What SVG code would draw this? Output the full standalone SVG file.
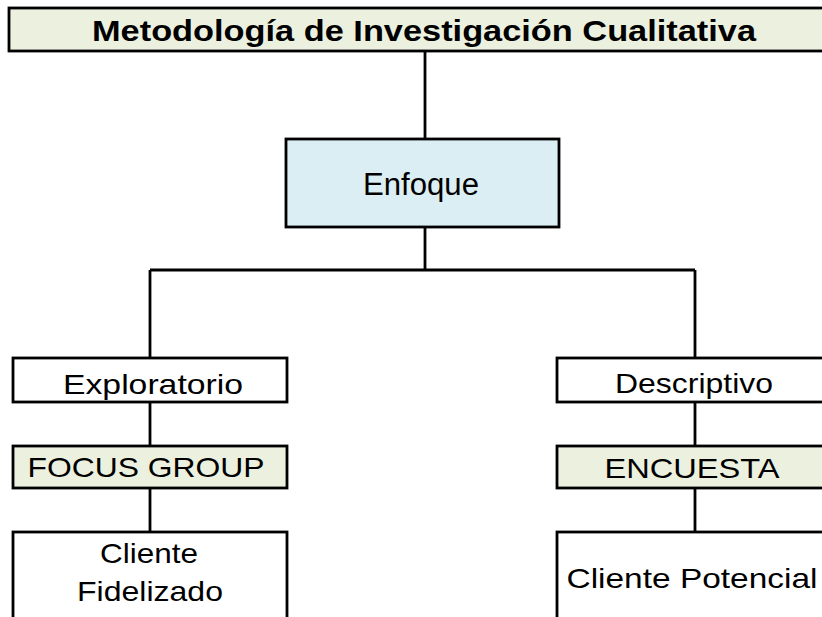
<svg xmlns="http://www.w3.org/2000/svg" width="822" height="617" viewBox="0 0 822 617">
<style>
.box{stroke:#000;stroke-width:2.8}
.white{fill:#fff}
.green{fill:#EBF1DE}
.blue{fill:#DAEEF3}
.t{font-family:"Liberation Sans",Arial,sans-serif;font-size:28px;fill:#000;text-anchor:middle}
.title{font-weight:bold;font-size:30px}
.big{font-size:31px}
.conn{stroke:#000;stroke-width:2.8;fill:none}
</style>
<rect width="822" height="617" fill="#fff"/>
<g id="connectors">
<line class="conn" x1="425" y1="51" x2="425" y2="139"/>
<line class="conn" x1="425" y1="227" x2="425" y2="270"/>
<line class="conn" x1="150" y1="270" x2="695" y2="270"/>
<line class="conn" x1="150" y1="270" x2="150" y2="358"/>
<line class="conn" x1="695" y1="270" x2="695" y2="358"/>
<line class="conn" x1="150" y1="402" x2="150" y2="446"/>
<line class="conn" x1="150" y1="488" x2="150" y2="532"/>
<line class="conn" x1="695" y1="402" x2="695" y2="446"/>
<line class="conn" x1="695" y1="488" x2="695" y2="532"/>
</g>
<g id="title">
<rect class="box green" x="9" y="8" width="830" height="43"/>
<text class="t title" x="424" y="41" textLength="664" lengthAdjust="spacingAndGlyphs">Metodología de Investigación Cualitativa</text>
</g>
<g id="enfoque">
<rect class="box blue" x="286" y="139" width="273" height="88"/>
<text class="t big" x="421" y="195" textLength="116" lengthAdjust="spacingAndGlyphs">Enfoque</text>
</g>
<g id="exploratorio">
<rect class="box white" x="13" y="358" width="274" height="44"/>
<text class="t" x="153" y="394" textLength="180" lengthAdjust="spacingAndGlyphs">Exploratorio</text>
</g>
<g id="focus-group">
<rect class="box green" x="13" y="446" width="274" height="42"/>
<text class="t" x="146" y="477" textLength="237" lengthAdjust="spacingAndGlyphs">FOCUS GROUP</text>
</g>
<g id="cliente-fidelizado">
<rect class="box white" x="13" y="532" width="274" height="110"/>
<text class="t" x="149" y="563" textLength="98" lengthAdjust="spacingAndGlyphs">Cliente</text>
<text class="t" x="150" y="601" textLength="146" lengthAdjust="spacingAndGlyphs">Fidelizado</text>
</g>
<g id="descriptivo">
<rect class="box white" x="557" y="358" width="280" height="44"/>
<text class="t" x="694" y="393" textLength="158" lengthAdjust="spacingAndGlyphs">Descriptivo</text>
</g>
<g id="encuesta">
<rect class="box green" x="557" y="446" width="280" height="42"/>
<text class="t" x="692" y="478" textLength="175" lengthAdjust="spacingAndGlyphs">ENCUESTA</text>
</g>
<g id="cliente-potencial">
<rect class="box white" x="557" y="532" width="280" height="110"/>
<text class="t" x="692" y="588" textLength="251" lengthAdjust="spacingAndGlyphs">Cliente Potencial</text>
</g>
</svg>
